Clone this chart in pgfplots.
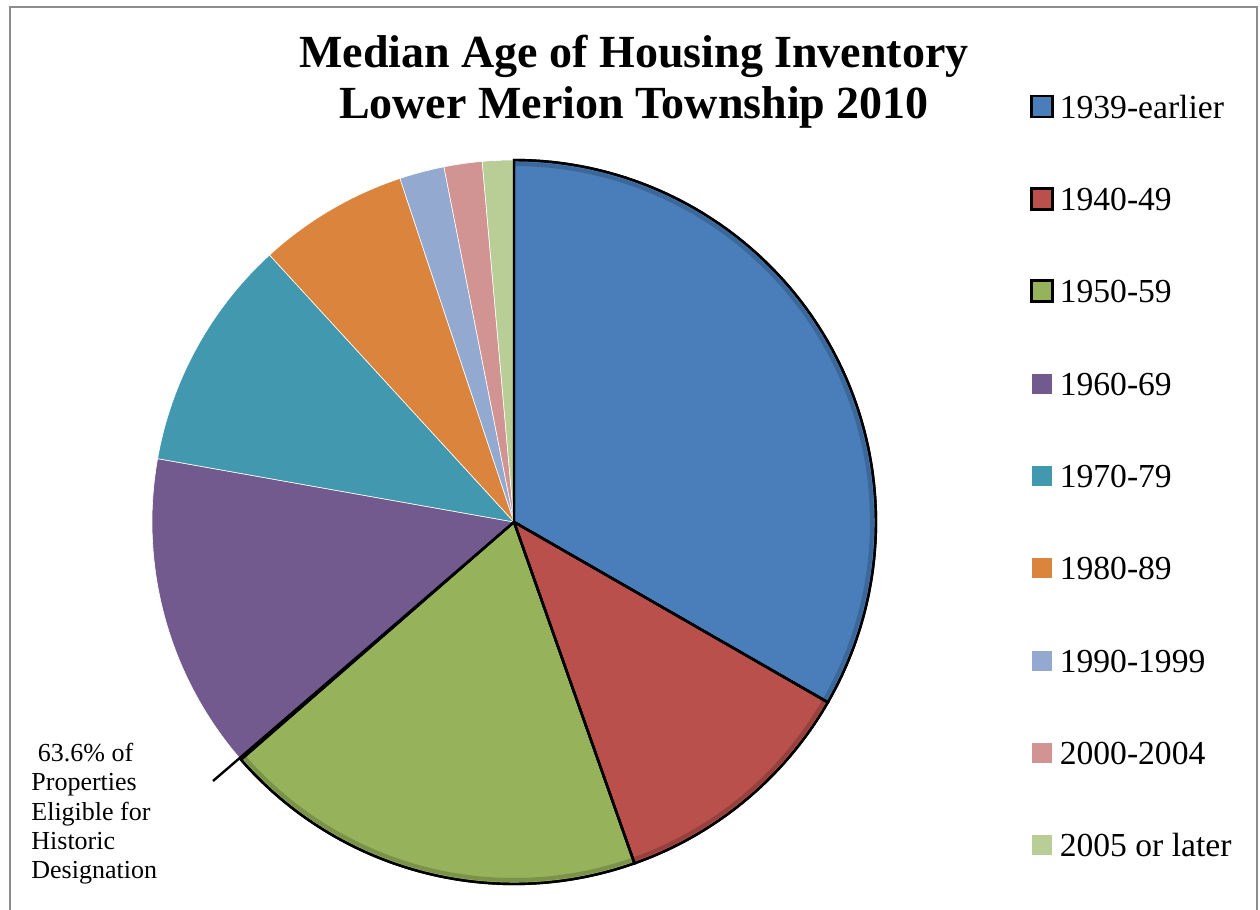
\documentclass[border=0pt]{standalone}
\usepackage{fontspec}
\setmainfont{Liberation Serif}
\usepackage{pgfplots}
\usepackage{pgfplotstable}
\pgfplotsset{compat=1.18}

\definecolor{c0}{HTML}{4A7EBB}
\definecolor{c1}{HTML}{B9504C}
\definecolor{c2}{HTML}{96B25A}
\definecolor{c3}{HTML}{725A8E}
\definecolor{c4}{HTML}{4298AF}
\definecolor{c5}{HTML}{DB843D}
\definecolor{c6}{HTML}{93A9CF}
\definecolor{c7}{HTML}{D29493}
\definecolor{c8}{HTML}{B9CD96}
\definecolor{frame}{HTML}{8C8C8C}

\pgfplotsset{
  slice0/.style={fill=c0, draw=black, line width=1.2pt},
  slice1/.style={fill=c1, draw=black, line width=1.2pt},
  slice2/.style={fill=c2, draw=black, line width=1.2pt},
  slice3/.style={fill=c3, draw=white, line width=0.3pt},
  slice4/.style={fill=c4, draw=white, line width=0.3pt},
  slice5/.style={fill=c5, draw=white, line width=0.3pt},
  slice6/.style={fill=c6, draw=white, line width=0.3pt},
  slice7/.style={fill=c7, draw=white, line width=0.3pt},
  slice8/.style={fill=c8, draw=white, line width=0.3pt},
}

% share of housing units by year built (percent)
\pgfplotstableread{
label value
1939-earlier 33.3
1940-49 11.3
1950-59 19.0
1960-69 14.2
1970-79 10.4
1980-89 6.7
1990-1999 2.0
2000-2004 1.7
2005-later 1.4
}\piedata

\begin{document}
\begin{tikzpicture}
\gdef\cum{0}
\foreach \i in {0,...,8}{
  \pgfplotstablegetelem{\i}{value}\of\piedata
  \pgfmathsetmacro\sA{90-3.6*\cum}
  \pgfmathsetmacro\nC{\cum+\pgfplotsretval}
  \pgfmathsetmacro\eA{90-3.6*\nC}
  \expandafter\xdef\csname sa\i\endcsname{\sA}
  \expandafter\xdef\csname ea\i\endcsname{\eA}
  \xdef\cum{\nC}
}
\useasboundingbox (0,0) rectangle (630pt,455pt);
\begin{axis}[
  at={(0,0)}, anchor=south west,
  scale only axis, width=630pt, height=455pt,
  xmin=0, xmax=1260, ymin=0, ymax=910,
  hide axis, clip=false,
  legend image code/.code={\draw[#1] (0pt,-5.25pt) rectangle (10.5pt,5.25pt);},
  legend cell align=left,
  legend style={draw=none, fill=none, at={(0.8127,0.904)}, anchor=north west,
    font=\fontsize{16.8}{19}\selectfont, row sep=31.35pt, column sep=3pt,
    nodes={inner sep=0pt}},
]
\pgfplotsinvokeforeach{0,...,8}{
  \addplot[slice#1, samples at={-1,0,...,101}]
    ({514+((x<0||x>100)?0:362)*cos(\csname sa#1\endcsname+(\csname ea#1\endcsname-\csname sa#1\endcsname)*x/100)},
     {388+((x<0||x>100)?0:362)*sin(\csname sa#1\endcsname+(\csname ea#1\endcsname-\csname sa#1\endcsname)*x/100)});
}
% soft bevel shadow along the arcs of the highlighted slices
\pgfplotsinvokeforeach{0,1,2}{
  \addplot[forget plot, draw=c#1!55!black, line width=2pt, opacity=0.4, samples at={0,1,...,100}]
    ({514+358*cos(\csname sa#1\endcsname+(\csname ea#1\endcsname-\csname sa#1\endcsname)*x/100)},
     {388+358*sin(\csname sa#1\endcsname+(\csname ea#1\endcsname-\csname sa#1\endcsname)*x/100)});
}
\pgfplotsinvokeforeach{0,1,2}{
  \addplot[forget plot, draw=black, line width=1.2pt, fill=none, samples at={-1,0,...,101}]
    ({514+((x<0||x>100)?0:362)*cos(\csname sa#1\endcsname+(\csname ea#1\endcsname-\csname sa#1\endcsname)*x/100)},
     {388+((x<0||x>100)?0:362)*sin(\csname sa#1\endcsname+(\csname ea#1\endcsname-\csname sa#1\endcsname)*x/100)});
}
\legend{\strut 1939-earlier, \strut 1940-49, \strut 1950-59, \strut 1960-69, \strut 1970-79,
  \strut 1980-89, \strut 1990-1999, \strut 2000-2004, \strut 2005 or later}

\draw[line width=1.2pt] (axis cs:514,388) -- (axis cs:213,129);

\node[anchor=base, font=\bfseries\fontsize{23}{25}\selectfont, inner sep=0pt] at (axis cs:634,842) {Median Age of Housing Inventory};
\node[anchor=base, font=\bfseries\fontsize{23}{25}\selectfont, inner sep=0pt] at (axis cs:634,791) {Lower Merion Township 2010};

\node[anchor=north west, align=left, inner sep=0pt, font=\fontsize{13}{14.6}\selectfont] at (axis cs:31,167)
  {\hspace{0.25em}63.6\% of\\Properties\\Eligible for\\Historic\\Designation};

\draw[frame, line width=1pt] (axis cs:10,-10) -- (axis cs:10,903) -- (axis cs:1257,903) -- (axis cs:1257,-10);
\end{axis}
\end{tikzpicture}
\end{document}
